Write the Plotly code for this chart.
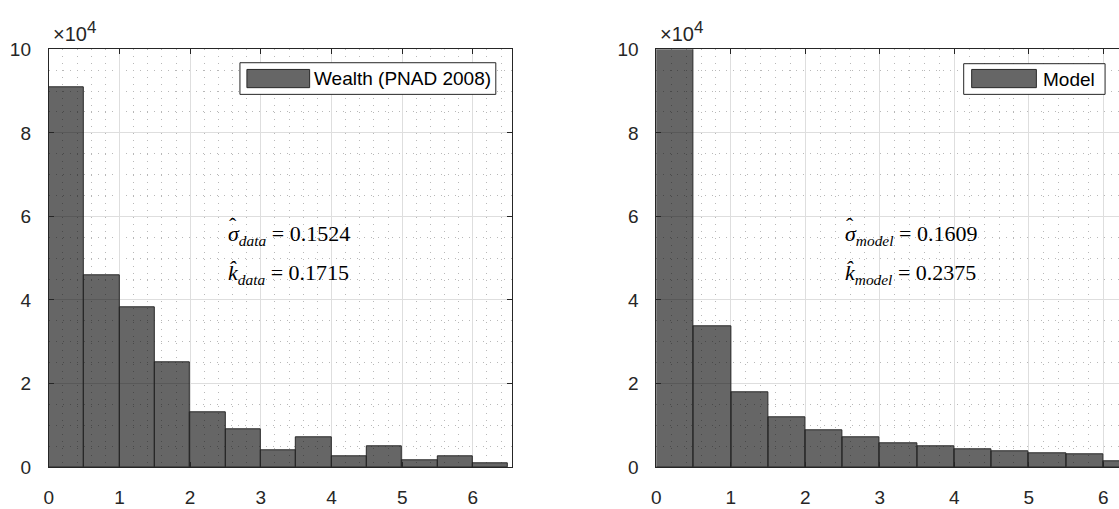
import plotly.graph_objects as go

# ---- data ----
bin_edges = [0.0, 0.5, 1.0, 1.5, 2.0, 2.5, 3.0, 3.5, 4.0, 4.5, 5.0, 5.5, 6.0, 6.5]
data_counts = [91000, 45800, 38200, 25000, 13200, 9100, 4100, 7000, 2600, 5000, 1500, 2600, 800]
model_counts = [104000, 33600, 17800, 11900, 8900, 7000, 5800, 4900, 4300, 3800, 3400, 3000, 1300]
data_label = "Wealth (PNAD 2008)"
model_label = "Model"
data_stats = ("data", "0.1524", "0.1715")
model_stats = ("model", "0.1609", "0.2375")
y_tickvals = [0, 20000, 40000, 60000, 80000, 100000]
y_ticktext = ["0", "2", "4", "6", "8", "10"]
x_tickvals = [0, 1, 2, 3, 4, 5, 6]

W, H = 1119, 509
def px(x):
    return x / W
def py(y):
    return 1 - y / H

centers = [(a + b) / 2 for a, b in zip(bin_edges[:-1], bin_edges[1:])]
widths = [b - a for a, b in zip(bin_edges[:-1], bin_edges[1:])]

BAR = "rgba(0,0,0,0.6)"
EDGE = "rgb(40,40,40)"
AX = "#262626"
FONT = "Liberation Sans, Arial, sans-serif"
FS = 19

fig = go.Figure()
fig.add_trace(go.Bar(x=centers, y=data_counts, width=widths, marker=dict(color=BAR, line=dict(color=EDGE, width=1)),
                     xaxis="x", yaxis="y", showlegend=False))
fig.add_trace(go.Bar(x=centers, y=model_counts, width=widths, marker=dict(color=BAR, line=dict(color=EDGE, width=1)),
                     xaxis="x2", yaxis="y2", showlegend=False))

ydom = [py(476.7), py(41)]
common_x = dict(tickvals=x_tickvals, ticks="inside", ticklen=5, tickcolor=AX, showline=True, linecolor=AX, linewidth=1,
                mirror="ticks", showgrid=True, gridcolor="#dedede", gridwidth=1, zeroline=False,
                ticklabelstandoff=13,
                tickfont=dict(family=FONT, size=FS, color=AX),
                minor=dict(dtick=0.2, showgrid=True, gridcolor="#b8b8b8", griddash="1px,6px", gridwidth=1, ticks=""))
common_y = dict(range=[0, 100000], tickvals=y_tickvals, ticktext=y_ticktext, ticks="inside", ticklen=5, tickcolor=AX,
                showline=True, linecolor=AX, linewidth=1, showgrid=True, gridcolor="#dedede", gridwidth=1,
                zeroline=False, ticklabelstandoff=13, tickfont=dict(family=FONT, size=FS, color=AX),
                minor=dict(dtick=5000, showgrid=True, gridcolor="#b8b8b8", griddash="1px,6px", gridwidth=1, ticks=""))

fig.update_layout(
    width=W, height=H, margin=dict(l=0, r=0, t=0, b=0),
    paper_bgcolor="white", plot_bgcolor="white", bargap=0,
    xaxis=dict(domain=[px(44), px(509)], range=[0, 6.55], anchor="y", **common_x),
    yaxis=dict(domain=ydom, anchor="x", mirror="ticks", **common_y),
    xaxis2=dict(domain=[px(654.3), 1.0], range=[0, 6.21], anchor="y2", **common_x),
    yaxis2=dict(domain=ydom, anchor="x2", mirror=False, **common_y),
)

shapes = []
annotations = []

def legend(x0, x1, y0, y1, sw0, sw1, swy0, swy1, label, tx):
    shapes.append(dict(type="rect", xref="paper", yref="paper", x0=px(x0), x1=px(x1), y0=py(y1), y1=py(y0),
                       line=dict(color=AX, width=1), fillcolor="white", layer="above"))
    shapes.append(dict(type="rect", xref="paper", yref="paper", x0=px(sw0), x1=px(sw1), y0=py(swy1), y1=py(swy0),
                       line=dict(color=EDGE, width=1), fillcolor="rgb(102,102,102)", layer="above"))
    annotations.append(dict(xref="paper", yref="paper", x=px(tx), y=py((y0 + y1) / 2), text=label, showarrow=False,
                            xanchor="left", yanchor="middle", font=dict(family=FONT, size=FS, color="black")))

legend(236, 493, 55, 88, 243, 306, 62, 81, data_label, 308)
legend(963, 1105, 56, 88, 971, 1036, 62, 81, model_label, 1041)

MF = 22
def stats(x, st):
    name, s, k = st
    annotations.append(dict(xref="paper", yref="paper", x=px(x), y=py(235), xanchor="left", yanchor="middle",
                            text=f"<i>σ</i><sub><i>{name}</i></sub> = {s}", showarrow=False,
                            font=dict(family="Liberation Serif, serif", size=MF, color="black")))
    annotations.append(dict(xref="paper", yref="paper", x=px(x + 7), y=py(225), xanchor="center", yanchor="middle",
                            text="ˆ", showarrow=False,
                            font=dict(family="Liberation Serif, serif", size=MF, color="black")))
    annotations.append(dict(xref="paper", yref="paper", x=px(x), y=py(275), xanchor="left", yanchor="middle",
                            text=f"<i>k̂</i><sub><i>{name}</i></sub> = {k}", showarrow=False,
                            font=dict(family="Liberation Serif, serif", size=MF, color="black")))

stats(222, data_stats)
stats(842, model_stats)

for x0 in (44, 654.3):
    annotations.append(dict(xref="paper", yref="paper", x=px(x0 + 2), y=py(39), xanchor="left", yanchor="bottom",
                            text="×10<sup><span style='font-size:17px'>4</span></sup>", showarrow=False,
                            font=dict(family=FONT, size=20, color=AX)))

fig.update_layout(shapes=shapes, annotations=annotations)
fig.write_html("out.html")
